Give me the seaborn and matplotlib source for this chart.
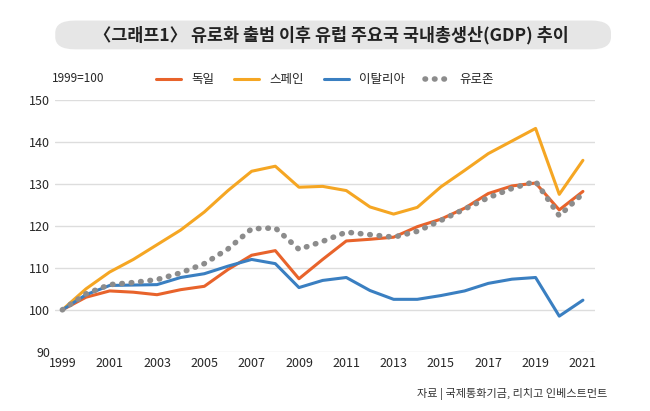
import matplotlib.pyplot as plt
import seaborn as sns
import pandas as pd
from matplotlib.patches import FancyBboxPatch

years = list(range(1999, 2022))
germany = [100, 103, 104.5, 104.2, 103.6, 104.8, 105.6, 109.6, 113, 114.1, 107.4, 112, 116.4,
           116.8, 117.3, 119.8, 121.6, 124.2, 127.7, 129.5, 130.2, 123.8, 128.2]
spain = [100, 105, 109, 112, 115.5, 119, 123.3, 128.4, 133, 134.2, 129.2, 129.4, 128.4,
         124.5, 122.8, 124.4, 129.3, 133.2, 137.2, 140.2, 143.2, 127.5, 135.6]
italy = [100, 103.6, 105.8, 105.9, 106, 107.7, 108.6, 110.4, 112, 111, 105.3, 107, 107.7,
         104.6, 102.5, 102.5, 103.4, 104.5, 106.3, 107.3, 107.7, 98.5, 102.3]
eurozone = [100, 103.8, 106, 106.5, 107.2, 108.8, 111, 114.5, 119.3, 119.5, 114.4, 116.3, 118.5,
            117.9, 117.3, 118.7, 121.3, 124, 126.7, 128.9, 130.6, 122.4, 127.7]
names = ['독일', '스페인', '이탈리아', '유로존']

df = pd.DataFrame({'year': years, names[0]: germany, names[1]: spain,
                   names[2]: italy, names[3]: eurozone})
df = df.melt(id_vars='year', var_name='country', value_name='gdp')

sns.set_style('white')
plt.rcParams['font.family'] = ['Noto Sans CJK KR', 'DejaVu Sans']

fig = plt.figure(figsize=(6.5, 4.11), dpi=100)
ax = fig.add_axes([0.085, 0.144, 0.83, 0.613])

palette = {'독일': '#e8632b', '스페인': '#f5a623', '이탈리아': '#3a7fc1', '유로존': '#8c8c8c'}
for name in names[:3]:
    sub = df[df.country == name]
    sns.lineplot(data=sub, x='year', y='gdp', color=palette[name], lw=2.2, ax=ax, label=name)
sub = df[df.country == '유로존']
sns.lineplot(data=sub, x='year', y='gdp', color=palette['유로존'], lw=4, ax=ax, label='유로존',
             linestyle=(0, (0.1, 1.6)), dash_capstyle='round')

ax.set_xlim(1998.7, 2021.5)
ax.set_ylim(90, 150)
ax.set_yticks(range(90, 151, 10))
ax.set_xticks(range(1999, 2022, 2))
ax.tick_params(labelsize=9, length=0)
ax.yaxis.grid(True, color='#dddddd', lw=1)
ax.set_xlabel('')
ax.set_ylabel('')
for s in ax.spines.values():
    s.set_visible(False)

ax.legend(loc='lower center', bbox_to_anchor=(0.5, 1.03), ncol=4, frameon=False,
          fontsize=9, handlelength=2.0, columnspacing=1.6, borderpad=0)

fig.text(0.08, 0.8, '1999=100', fontsize=8.5)
fig.text(0.935, 0.035, '자료 | 국제통화기금, 리치고 인베스트먼트', fontsize=8, ha='right', color='#333333')

box = FancyBboxPatch((0.085, 0.88), 0.855, 0.07, boxstyle='round,pad=0,rounding_size=0.03',
                     transform=fig.transFigure, facecolor='#e6e6e6', edgecolor='none')
fig.patches.append(box)
fig.text(0.51, 0.915, '〈그래프1〉 유로화 출범 이후 유럽 주요국 국내총생산(GDP) 추이',
         ha='center', va='center', fontsize=12.5, fontweight='bold', color='#222222')

fig.savefig('out.png', dpi=100)
